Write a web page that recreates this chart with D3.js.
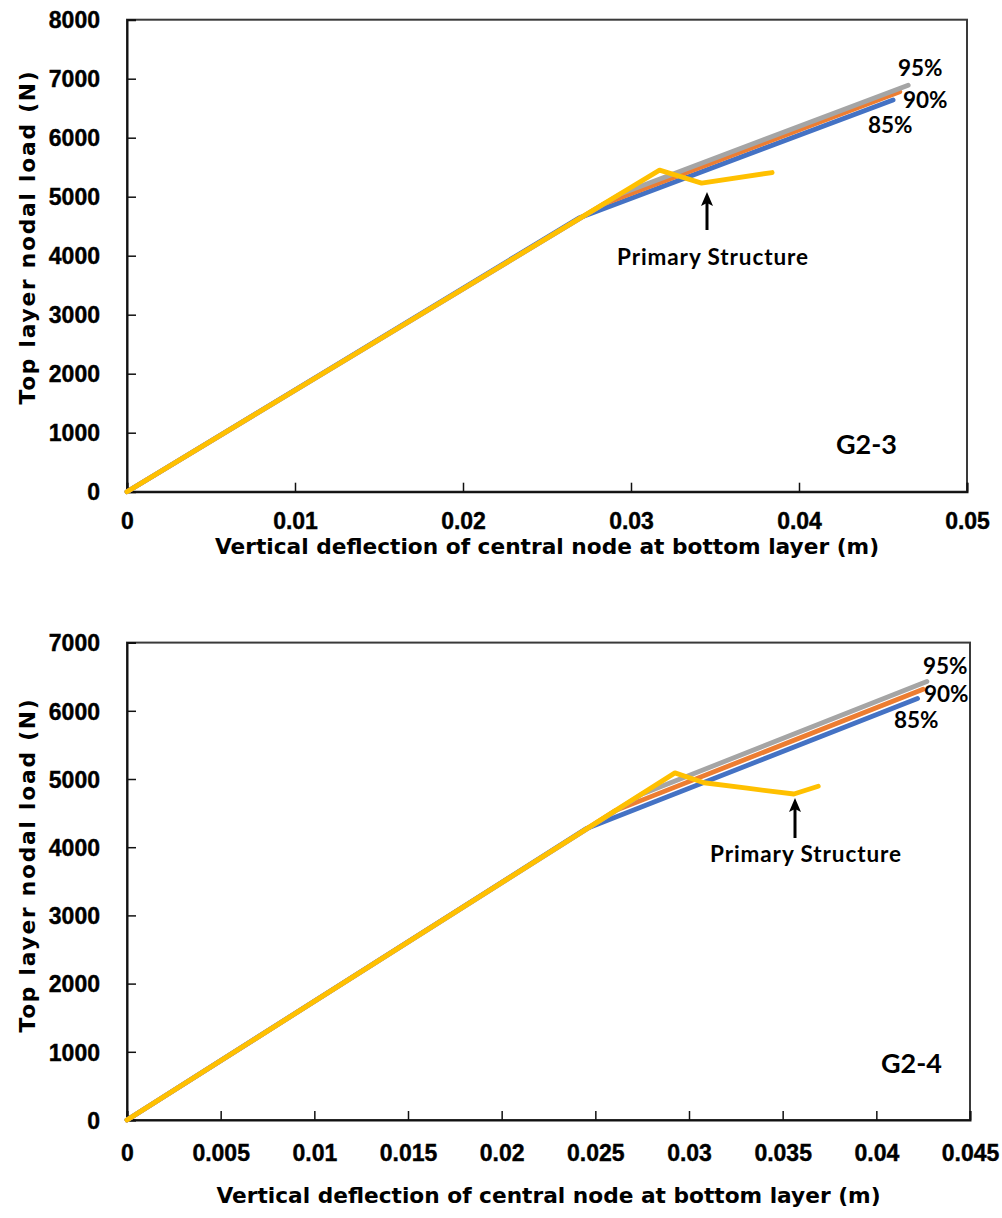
<!DOCTYPE html>
<html><head><meta charset="utf-8">
<script src="https://cdn.jsdelivr.net/npm/d3@7"></script>
<style>
html,body{margin:0;padding:0;background:#fff;}
svg{display:block;}
</style></head>
<body>
<svg id="c" width="1002" height="1218"></svg>
<script>
// ---------- DATA ----------
// Chart G2-3
const g23XTicks = [0, 0.01, 0.02, 0.03, 0.04, 0.05];
const g23XTickLabels = ["0", "0.01", "0.02", "0.03", "0.04", "0.05"];
const g23YTicks = [0, 1000, 2000, 3000, 4000, 5000, 6000, 7000, 8000];
const g23P85 = [[0, 0], [0.0269, 4640], [0.0456, 6640]];
const g23P90 = [[0, 0], [0.0284, 4880], [0.0460, 6780]];
const g23P95 = [[0, 0], [0.0294, 5050], [0.0465, 6890]];
const g23Primary = [[0, 0], [0.0317, 5450], [0.0342, 5230], [0.0384, 5410]];

// Chart G2-4
const g24XTicks = [0, 0.005, 0.01, 0.015, 0.02, 0.025, 0.03, 0.035, 0.04, 0.045];
const g24XTickLabels = ["0", "0.005", "0.01", "0.015", "0.02", "0.025", "0.03", "0.035", "0.04", "0.045"];
const g24YTicks = [0, 1000, 2000, 3000, 4000, 5000, 6000, 7000];
const g24P85 = [[0, 0], [0.0245, 4270], [0.0422, 6180]];
const g24P90 = [[0, 0], [0.0261, 4540], [0.0425, 6315]];
const g24P95 = [[0, 0], [0.0275, 4780], [0.0427, 6430]];
const g24Primary = [[0, 0], [0.02925, 5090], [0.0308, 4945], [0.0331, 4865], [0.0356, 4780], [0.0369, 4895]];

const seriesNames = ["85%", "90%", "95%", "Primary Structure"];
const seriesColors = ["#4472C4", "#ED7D31", "#A5A5A5", "#FFC000"];
const xTitle = "Vertical deflection of central node at bottom layer (m)";
const yTitle = "Top layer nodal load (N)";

// ---------- DRAW ----------
const svg = d3.select("#c");
const tickFont = "'Liberation Sans', Arial, sans-serif";
const titleFont = "'DejaVu Sans', Verdana, sans-serif";
const annFont = "Lato, 'Open Sans', sans-serif";

function drawChart(cfg) {
  const g = svg.append("g");
  const x = d3.scaleLinear().domain(cfg.xDomain).range([cfg.left, cfg.right]);
  const y = d3.scaleLinear().domain(cfg.yDomain).range([cfg.bottom, cfg.top]);

  // frame
  g.append("rect").attr("x", cfg.left).attr("y", cfg.top)
    .attr("width", cfg.right - cfg.left).attr("height", cfg.bottom - cfg.top)
    .attr("fill", "none").attr("stroke", "#3a3a3a").attr("stroke-width", 2);

  // axes
  const xa = g.append("g").attr("transform", `translate(0,${cfg.bottom})`)
    .call(d3.axisBottom(x).tickValues(cfg.xTicks).tickSize(-9).tickPadding(0)
      .tickFormat((d, i) => cfg.xLabels[i]));
  const ya = g.append("g").attr("transform", `translate(${cfg.left},0)`)
    .call(d3.axisLeft(y).tickValues(cfg.yTicks).tickSize(-9).tickPadding(0)
      .tickFormat(d3.format("d")));
  [xa, ya].forEach(a => {
    a.select(".domain").attr("stroke", "#111").attr("stroke-width", 2);
    a.selectAll(".tick line").attr("stroke", "#111").attr("stroke-width", 1.5);
    a.selectAll("text").attr("font-family", tickFont).attr("font-weight", "bold")
      .attr("font-size", 23).attr("fill", "#000")
      .attr("stroke", "#000").attr("stroke-width", 0.4);
  });
  xa.selectAll("text").attr("y", cfg.xTickY).attr("dy", 0);
  ya.selectAll("text").attr("x", -27).attr("dy", "0.36em");

  // lines
  const line = d3.line().x(d => x(d[0])).y(d => y(d[1]));
  cfg.series.forEach((s, i) => {
    g.append("path").datum(s).attr("d", line).attr("fill", "none")
      .attr("stroke", seriesColors[i]).attr("stroke-width", 4.8)
      .attr("stroke-linejoin", "round").attr("stroke-linecap", "round");
  });

  // axis titles
  g.append("text").attr("x", (cfg.left + cfg.right) / 2).attr("y", cfg.xTitleY)
    .attr("text-anchor", "middle").attr("font-family", titleFont)
    .attr("font-weight", "bold").attr("font-size", 21.7).text(xTitle);
  g.append("text").attr("transform", `translate(${cfg.yTitleX},${cfg.yTitleCY}) rotate(-90)`)
    .attr("text-anchor", "middle").attr("font-family", titleFont)
    .attr("font-weight", "bold").attr("font-size", 21.7).attr("letter-spacing", 1.8).text(yTitle);

  // percent labels
  cfg.pctLabels.forEach(p => {
    g.append("text").attr("x", p.x).attr("y", p.y).attr("font-family", annFont)
      .attr("font-weight", "bold").attr("font-size", 22.5).text(p.t);
  });
  // arrow + primary structure
  const ax = cfg.arrow.x;
  g.append("line").attr("x1", ax).attr("x2", ax).attr("y1", cfg.arrow.y2).attr("y2", cfg.arrow.y1 + 6)
    .attr("stroke", "#000").attr("stroke-width", 3);
  g.append("path").attr("d", `M${ax},${cfg.arrow.y1} L${ax - 6},${cfg.arrow.y1 + 14} L${ax},${cfg.arrow.y1 + 11} L${ax + 6},${cfg.arrow.y1 + 14} Z`)
    .attr("fill", "#000");
  g.append("text").attr("x", cfg.psX).attr("y", cfg.psY).attr("font-family", annFont)
    .attr("font-weight", "bold").attr("font-size", 22.5).attr("letter-spacing", 0.9).text(seriesNames[3]);
  g.append("text").attr("x", cfg.nameX).attr("y", cfg.nameY).attr("font-family", annFont)
    .attr("font-weight", "bold").attr("font-size", 27).text(cfg.name);
}

drawChart({
  xDomain: [0, 0.05], yDomain: [0, 8000],
  left: 127, right: 967, top: 19.7, bottom: 491.7,
  xTicks: g23XTicks, xLabels: g23XTickLabels, yTicks: g23YTicks, xTickY: 37,
  series: [g23P85, g23P90, g23P95, g23Primary],
  xTitleY: 554, yTitleX: 35, yTitleCY: 237,
  pctLabels: [{t: "95%", x: 898, y: 76}, {t: "90%", x: 903, y: 108}, {t: "85%", x: 868, y: 133}],
  arrow: {x: 707, y1: 192, y2: 230}, psX: 617, psY: 265,
  name: "G2-3", nameX: 836, nameY: 454
});

drawChart({
  xDomain: [0, 0.045], yDomain: [0, 7000],
  left: 127, right: 970, top: 642.6, bottom: 1120,
  xTicks: g24XTicks, xLabels: g24XTickLabels, yTicks: g24YTicks, xTickY: 41,
  series: [g24P85, g24P90, g24P95, g24Primary],
  xTitleY: 1203, yTitleX: 35, yTitleCY: 865,
  pctLabels: [{t: "95%", x: 923, y: 674}, {t: "90%", x: 924, y: 702}, {t: "85%", x: 894, y: 728}],
  arrow: {x: 795, y1: 798, y2: 838}, psX: 710, psY: 862,
  name: "G2-4", nameX: 881, nameY: 1073
});
</script>
</body></html>
